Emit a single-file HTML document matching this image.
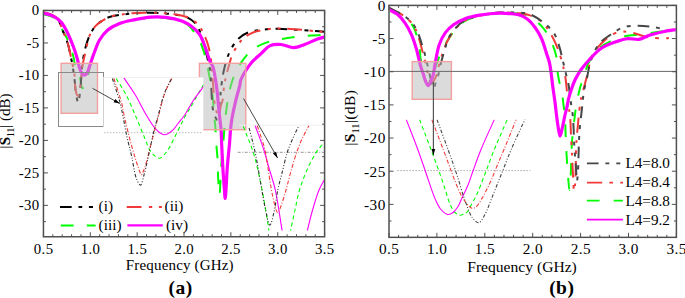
<!DOCTYPE html>
<html><head><meta charset="utf-8"><style>
html,body{margin:0;padding:0;background:#fff;overflow:hidden;}
svg{display:block;}
svg{font-family:"Liberation Serif",serif;font-size:14.5px;fill:#000;}
</style></head><body>
<svg width="685" height="298" viewBox="0 0 685 298">
<defs><clipPath id="cA"><rect x="43.5" y="10.5" width="280.5" height="225.5"/></clipPath><clipPath id="cB"><rect x="389.8" y="6.1" width="286" height="230.4"/></clipPath><clipPath id="cI1"><rect x="103.4" y="77.5" width="99.9" height="120"/></clipPath><clipPath id="cI2"><rect x="237.7" y="125" width="86.8" height="105.5"/></clipPath><clipPath id="cIB"><rect x="395" y="119.4" width="136" height="110"/></clipPath><marker id="ah" viewBox="0 0 10 10" refX="10" refY="5" markerWidth="6.2" markerHeight="6.2" markerUnits="userSpaceOnUse" orient="auto"><path d="M0,2 L10,5 L0,8 z" fill="#000"/></marker></defs>
<path d="M43.00,14.00 C46.33,15.00 50.30,15.81 53.00,17.00 C55.02,17.89 56.65,18.45 58.00,20.00 C59.70,21.96 60.21,25.65 61.60,28.50 C63.08,31.54 65.20,34.58 66.70,37.70 C68.16,40.75 69.36,43.74 70.50,47.00 C71.71,50.48 72.92,54.73 73.70,58.00 C74.31,60.58 74.23,62.72 75.00,65.00 C75.80,67.39 77.61,69.60 78.50,72.00 C79.36,74.34 79.70,76.66 80.30,79.20 C80.97,82.03 81.26,87.90 82.30,88.20 C82.91,88.38 83.84,87.04 84.50,86.00 C85.52,84.40 86.30,81.35 87.00,79.00 C87.69,76.68 88.17,74.34 88.70,72.00 C89.23,69.67 89.59,67.28 90.20,65.00 C90.80,62.78 91.56,60.68 92.30,58.50 C93.06,56.28 93.72,54.33 94.70,51.80 C96.01,48.41 97.45,43.61 99.60,40.00 C101.73,36.42 104.27,32.91 107.50,30.20 C110.88,27.36 115.30,25.21 119.60,23.50 C124.02,21.75 128.73,20.86 133.70,19.90 C139.14,18.85 145.46,17.89 151.00,17.60 C156.09,17.33 160.73,17.32 165.70,18.00 C170.98,18.72 177.65,20.41 181.80,22.00 C184.63,23.08 186.31,23.62 188.60,25.60 C192.11,28.63 196.72,35.54 199.30,40.20 C201.37,43.93 202.36,47.16 203.60,51.00 C204.96,55.18 206.01,60.06 207.00,64.40 C207.92,68.45 208.64,72.11 209.40,76.20 C210.22,80.61 211.08,85.89 211.70,90.00 C212.20,93.31 212.54,95.57 212.90,99.00 C213.38,103.57 213.66,110.29 214.10,115.00 C214.44,118.73 214.87,121.09 215.20,125.00 C215.67,130.52 215.97,138.81 216.40,145.00 C216.78,150.36 217.30,154.70 217.60,160.00 C217.93,165.96 217.86,172.94 218.20,179.00 C218.51,184.57 219.11,195.00 219.50,195.00 C219.88,195.00 220.18,185.23 220.50,180.00 C220.85,174.27 221.04,168.30 221.50,162.00 C222.01,155.03 222.87,147.16 223.50,140.00 C224.10,133.18 224.46,126.89 225.20,120.00 C226.00,112.59 227.12,103.11 228.20,97.00 C228.93,92.90 229.50,90.34 230.50,86.80 C231.61,82.84 233.04,78.25 234.70,74.40 C236.24,70.82 237.85,67.74 240.00,64.40 C242.42,60.65 245.85,56.06 248.70,53.10 C250.90,50.82 252.43,49.39 255.20,47.70 C259.04,45.35 264.94,42.89 270.20,41.30 C275.65,39.65 281.65,39.00 287.40,38.10 C293.12,37.20 298.65,36.43 304.60,35.90 C310.98,35.33 317.87,35.23 324.50,34.90" fill="none" stroke="#00ff00" stroke-width="2" stroke-dasharray="12.8 13.2" clip-path="url(#cA)" stroke-linejoin="round"/>
<path d="M43.00,12.50 C46.33,13.60 50.33,14.41 53.00,15.80 C55.06,16.86 56.64,17.77 58.00,19.50 C59.66,21.62 60.26,24.82 61.60,28.10 C63.38,32.44 66.15,38.37 67.70,43.30 C69.10,47.75 69.83,52.23 70.70,56.30 C71.47,59.87 72.09,62.77 72.70,66.40 C73.41,70.59 74.03,75.35 74.60,80.00 C75.20,84.87 75.45,90.83 76.20,95.00 C76.75,98.04 77.60,102.83 78.20,102.80 C78.90,102.77 79.49,96.02 80.00,92.00 C80.64,86.98 81.09,80.00 81.50,75.00 C81.82,71.05 81.79,68.29 82.30,64.40 C82.93,59.58 84.03,53.24 85.30,48.30 C86.42,43.94 87.57,39.96 89.30,36.20 C90.97,32.58 92.92,28.84 95.40,26.10 C97.69,23.57 100.94,21.67 103.40,20.10 C105.33,18.87 106.48,18.02 108.80,17.20 C112.41,15.92 118.11,15.10 123.40,14.40 C129.61,13.58 137.26,13.08 143.80,12.90 C149.85,12.73 155.74,12.87 161.30,13.20 C166.39,13.50 171.33,13.90 175.90,14.70 C180.04,15.42 184.16,15.95 187.60,17.60 C190.84,19.16 193.84,21.26 196.10,24.10 C198.59,27.22 199.94,31.66 201.50,35.90 C203.22,40.56 204.62,46.41 205.80,51.00 C206.78,54.80 207.41,57.95 208.20,61.50 C209.01,65.15 210.10,68.70 210.60,72.60 C211.15,76.83 210.85,80.80 211.20,86.00 C211.68,93.25 211.78,105.93 213.50,112.00 C214.51,115.56 216.48,120.18 217.50,120.00 C219.03,119.74 219.37,105.82 220.00,100.00 C220.49,95.50 220.58,92.28 221.10,88.00 C221.70,83.04 222.54,76.78 223.50,72.00 C224.29,68.05 225.18,64.62 226.20,61.30 C227.11,58.33 227.98,55.73 229.20,53.00 C230.47,50.16 232.00,47.13 233.70,44.60 C235.29,42.23 236.82,40.12 239.00,38.20 C241.47,36.03 244.58,33.87 248.00,32.50 C251.81,30.97 256.44,30.51 261.00,29.90 C265.97,29.23 271.52,28.86 276.70,28.80 C281.76,28.74 286.53,29.21 291.70,29.50 C297.24,29.81 303.31,30.22 308.90,30.60 C314.23,30.96 319.30,31.33 324.50,31.70" fill="none" stroke="#000" stroke-width="2" stroke-dasharray="11.7 6.8 3.7 6.7 4.1 6.5" clip-path="url(#cA)" stroke-linejoin="round"/>
<path d="M43.00,12.00 C46.33,13.10 50.33,13.91 53.00,15.30 C55.06,16.36 56.65,17.25 58.00,19.00 C59.69,21.19 60.24,24.62 61.60,28.00 C63.36,32.37 66.16,38.12 67.70,43.00 C69.10,47.43 69.88,52.33 70.70,56.00 C71.30,58.69 71.66,60.35 72.20,63.00 C72.90,66.46 74.00,70.98 74.50,75.00 C75.00,78.98 74.70,83.42 75.20,87.00 C75.62,89.95 76.15,93.66 77.00,95.00 C77.38,95.60 77.92,96.13 78.30,96.00 C79.05,95.75 79.55,92.47 80.00,90.00 C80.70,86.17 80.79,79.70 81.30,75.10 C81.74,71.12 82.23,67.27 82.80,64.00 C83.26,61.39 83.77,59.33 84.30,57.00 C84.83,54.66 85.34,52.73 86.00,50.00 C86.92,46.17 87.61,40.33 89.30,36.20 C90.84,32.44 92.92,28.84 95.40,26.10 C97.69,23.57 100.95,21.71 103.40,20.10 C105.33,18.83 106.47,17.86 108.80,17.00 C112.40,15.66 118.11,14.90 123.40,14.20 C129.61,13.38 137.26,12.88 143.80,12.70 C149.85,12.53 155.74,12.69 161.30,13.00 C166.39,13.29 171.50,13.67 175.90,14.40 C179.60,15.01 183.11,15.82 186.00,16.80 C188.30,17.58 190.16,18.37 192.00,19.50 C193.82,20.61 195.47,21.92 197.00,23.50 C198.66,25.21 200.02,26.94 201.50,29.50 C203.68,33.28 206.31,39.38 207.90,44.50 C209.46,49.55 210.19,54.36 211.00,60.00 C211.95,66.67 212.24,74.59 212.90,82.00 C213.57,89.58 213.74,98.79 215.00,105.00 C215.89,109.39 217.50,116.04 218.50,116.00 C219.49,115.96 220.20,107.94 221.00,105.00 C221.55,102.99 222.15,102.12 222.60,100.00 C223.33,96.54 223.48,90.10 224.10,86.00 C224.59,82.74 225.11,80.31 225.80,77.30 C226.55,74.00 227.50,70.52 228.50,67.00 C229.56,63.26 230.62,58.91 232.00,55.50 C233.18,52.59 234.58,50.05 236.00,47.70 C237.27,45.60 238.51,43.78 240.00,42.00 C241.50,40.21 242.98,38.52 245.00,37.00 C247.40,35.20 250.46,33.42 253.70,32.20 C257.34,30.83 261.76,30.13 265.90,29.50 C270.12,28.86 274.06,28.47 278.80,28.40 C284.61,28.32 291.58,28.99 298.20,29.50 C305.16,30.04 314.98,31.18 319.60,31.60 C321.81,31.80 322.87,31.87 324.50,32.00" fill="none" stroke="#f03a3a" stroke-width="2" stroke-dasharray="14.8 7.4 3.3 6.7 3 6.7" clip-path="url(#cA)" stroke-linejoin="round"/>
<path d="M43.00,13.00 C46.37,14.03 50.05,14.55 53.10,16.10 C56.07,17.61 58.81,19.57 61.10,22.10 C63.58,24.84 65.30,28.48 67.20,32.20 C69.37,36.44 71.48,41.75 73.20,46.30 C74.77,50.45 76.14,54.68 77.20,58.40 C78.09,61.52 78.43,64.45 79.30,67.10 C80.07,69.43 80.91,72.16 82.00,73.50 C82.69,74.35 83.51,75.08 84.30,75.10 C85.11,75.12 86.08,74.38 86.80,73.50 C87.90,72.16 88.48,69.37 89.30,67.10 C90.22,64.57 91.11,61.57 92.00,59.00 C92.81,56.66 93.42,54.85 94.40,52.30 C95.73,48.84 97.20,43.90 99.40,40.20 C101.58,36.54 104.22,32.95 107.50,30.20 C110.91,27.34 115.30,25.21 119.60,23.50 C124.02,21.75 128.73,20.92 133.70,19.90 C139.15,18.78 145.45,17.59 151.00,17.20 C156.08,16.84 160.72,16.82 165.70,17.40 C170.98,18.02 177.32,19.33 181.80,21.00 C185.31,22.31 187.89,23.76 190.70,25.80 C193.75,28.01 196.90,30.58 199.30,34.00 C202.10,37.99 203.95,43.99 205.80,48.80 C207.50,53.21 208.67,58.43 210.10,61.70 C211.04,63.84 212.12,64.68 212.90,66.80 C214.02,69.84 214.61,74.61 215.30,78.50 C215.98,82.34 216.52,86.07 217.00,90.00 C217.50,94.10 217.75,98.06 218.20,102.60 C218.73,107.93 219.47,115.00 220.00,120.00 C220.40,123.79 220.82,126.32 221.10,130.00 C221.44,134.49 221.44,139.37 221.70,145.00 C222.03,152.28 222.53,162.35 223.00,170.00 C223.40,176.49 223.89,182.80 224.30,188.00 C224.61,191.97 224.90,198.50 225.20,198.50 C225.50,198.50 225.82,191.97 226.10,188.00 C226.47,182.81 226.69,175.72 227.10,170.00 C227.47,164.77 227.98,159.49 228.40,155.00 C228.74,151.33 229.08,148.67 229.40,145.00 C229.79,140.51 230.07,134.49 230.50,130.00 C230.86,126.33 231.07,123.88 231.70,120.00 C232.60,114.52 234.34,106.43 235.80,100.30 C237.09,94.86 239.18,88.49 239.90,85.00 C240.27,83.21 240.00,82.50 240.50,80.90 C241.30,78.35 243.35,74.57 245.20,71.50 C247.15,68.26 249.37,64.99 252.00,62.00 C254.79,58.84 258.47,55.92 261.60,53.10 C264.53,50.47 266.92,47.02 270.20,45.60 C273.40,44.21 277.26,44.23 281.00,44.50 C285.13,44.79 289.81,47.80 293.90,47.70 C297.65,47.61 300.90,45.82 304.60,44.50 C308.74,43.02 313.82,40.42 317.50,39.10 C320.16,38.15 322.17,37.70 324.50,37.00" fill="none" stroke="#ff00ff" stroke-width="3.2" clip-path="url(#cA)" stroke-linejoin="round"/>
<rect x="61.1" y="63.3" width="36.4" height="50" fill="#b8b8b8" fill-opacity="0.5" stroke="#f4a0a0" stroke-width="1.4"/>
<rect x="199.4" y="63.3" width="46.4" height="66.4" fill="#b8b8b8" fill-opacity="0.5" stroke="#f4a0a0" stroke-width="1.4"/>
<rect x="58.5" y="72.5" width="45" height="54" fill="none" stroke="#8a8a8a" stroke-width="1"/>
<rect x="103.4" y="77.5" width="99.9" height="115" fill="#fff"/>
<line x1="103.4" y1="77.5" x2="203.3" y2="77.5" stroke="#efefef" stroke-width="1"/>
<line x1="103.9" y1="132.7" x2="202.7" y2="132.7" stroke="#bbb" stroke-width="1" stroke-dasharray="1.5 1.5"/>
<path d="M116.20,78.50 C119.57,84.07 123.14,89.16 126.30,95.20 C129.79,101.88 132.89,109.76 136.00,117.00 C139.05,124.10 142.08,131.91 144.80,138.20 C147.01,143.31 148.22,148.55 151.00,152.00 C153.31,154.86 156.77,158.32 159.40,158.20 C161.89,158.09 164.14,154.83 166.40,152.00 C169.65,147.94 172.72,140.77 175.70,135.10 C178.65,129.47 181.44,123.19 184.20,118.10 C186.52,113.82 188.57,110.71 191.00,106.50 C193.87,101.51 197.88,94.23 200.30,90.10 C201.79,87.56 202.77,86.03 204.00,84.00" fill="none" stroke="#00ff00" stroke-width="1.1" stroke-dasharray="4 3" clip-path="url(#cI1)" stroke-linejoin="round"/>
<path d="M123.90,77.90 C127.77,83.67 131.83,89.15 135.50,95.20 C139.32,101.49 142.70,109.06 146.30,115.00 C149.40,120.12 152.22,125.46 155.60,128.90 C158.26,131.61 161.21,134.61 164.10,134.80 C166.88,134.98 170.25,132.35 172.60,130.40 C174.85,128.54 176.13,125.86 178.00,123.50 C179.99,121.00 182.07,118.87 184.20,115.80 C187.02,111.75 189.84,105.82 193.00,101.00 C196.20,96.12 201.03,90.22 203.30,86.70 C204.56,84.75 205.10,83.57 206.00,82.00" fill="none" stroke="#ff00ff" stroke-width="1.1" clip-path="url(#cI1)" stroke-linejoin="round"/>
<path d="M113.90,78.50 C116.47,86.63 119.73,95.69 121.60,102.90 C123.05,108.49 123.50,112.62 124.70,118.00 C126.08,124.21 127.80,131.48 129.50,138.00 C131.14,144.30 133.04,151.08 134.70,156.50 C136.02,160.80 137.25,164.69 138.50,168.00 C139.48,170.59 140.45,174.77 141.40,174.80 C142.21,174.82 143.05,171.80 143.80,170.00 C144.70,167.85 145.47,165.49 146.30,162.70 C147.38,159.07 148.34,154.51 149.50,150.00 C150.82,144.86 152.34,139.04 153.80,133.50 C155.28,127.87 156.61,122.67 158.30,116.50 C160.33,109.09 162.56,99.00 165.20,92.10 C167.26,86.71 169.73,82.83 172.00,78.20" fill="none" stroke="#f03a3a" stroke-width="1.1" stroke-dasharray="4 1.8 1 1.8" clip-path="url(#cI1)" stroke-linejoin="round"/>
<path d="M112.40,78.50 C114.97,86.63 118.26,95.91 120.10,102.90 C121.46,108.05 121.98,111.50 123.00,116.50 C124.25,122.63 125.53,130.27 127.00,137.00 C128.44,143.60 130.19,149.82 131.70,156.50 C133.29,163.53 134.28,173.10 136.30,178.20 C137.52,181.28 139.28,185.23 140.50,185.10 C141.90,184.95 142.89,178.83 144.00,175.00 C145.42,170.10 146.60,164.19 148.00,158.00 C149.67,150.58 151.50,140.90 153.30,133.50 C154.81,127.30 156.18,122.67 157.90,116.50 C159.96,109.09 162.23,98.99 164.90,92.10 C166.99,86.71 169.50,82.83 171.80,78.20" fill="none" stroke="#333" stroke-width="1.1" stroke-dasharray="3.5 1.8 1 1.8 1 1.8" clip-path="url(#cI1)" stroke-linejoin="round"/>
<line x1="239" y1="125.2" x2="324.5" y2="125.2" stroke="#efefef" stroke-width="1"/>
<line x1="237.7" y1="152.3" x2="324.5" y2="152.3" stroke="#999" stroke-width="1" stroke-dasharray="3 1.5 1 1.5"/>
<path d="M243.30,126.40 C246.80,135.60 250.80,144.15 253.80,154.00 C257.11,164.87 259.76,178.53 261.90,189.00 C263.63,197.44 264.77,204.69 266.00,212.00 C267.11,218.63 268.30,225.83 269.00,231.00 C269.48,234.55 269.67,237.00 270.00,240.00" fill="none" stroke="#00ff00" stroke-width="1.1" stroke-dasharray="4 3" clip-path="url(#cI2)" stroke-linejoin="round"/>
<path d="M289.00,240.00 C289.60,236.50 290.02,233.53 290.80,229.50 C291.87,223.99 293.56,216.54 295.00,210.00 C296.46,203.37 297.53,196.60 299.50,190.00 C301.51,183.26 304.21,176.29 307.00,170.00 C309.61,164.10 312.70,157.86 315.60,153.30 C317.82,149.81 320.38,147.03 322.30,144.60 C323.70,142.82 324.77,141.53 326.00,140.00" fill="none" stroke="#00ff00" stroke-width="1.1" stroke-dasharray="4 3" clip-path="url(#cI2)" stroke-linejoin="round"/>
<path d="M255.20,125.70 C258.10,133.80 261.49,142.47 263.90,150.00 C265.95,156.41 267.21,161.70 269.00,168.00 C270.98,174.97 273.37,181.50 275.30,190.00 C277.88,201.38 280.49,221.58 282.10,230.40 C282.89,234.71 283.37,236.80 284.00,240.00" fill="none" stroke="#ff00ff" stroke-width="1.1" clip-path="url(#cI2)" stroke-linejoin="round"/>
<path d="M305.00,240.00 C305.80,236.80 306.47,234.12 307.40,230.40 C308.69,225.26 310.19,218.38 312.00,212.00 C314.00,204.96 316.66,195.67 319.00,190.00 C320.56,186.23 322.38,183.29 323.70,180.90 C324.58,179.31 325.23,178.30 326.00,177.00" fill="none" stroke="#ff00ff" stroke-width="1.1" clip-path="url(#cI2)" stroke-linejoin="round"/>
<path d="M257.20,125.70 C259.63,133.13 262.75,141.01 264.50,148.00 C266.00,153.99 266.47,158.84 267.50,165.00 C268.72,172.31 269.99,181.95 271.30,189.00 C272.34,194.60 273.27,199.68 274.50,204.00 C275.47,207.39 276.55,212.84 277.70,212.90 C278.73,212.95 279.89,208.83 281.00,206.00 C282.64,201.82 284.39,195.58 286.00,190.00 C287.74,183.96 289.15,177.47 291.00,171.00 C292.96,164.15 295.33,155.98 297.50,150.00 C299.17,145.40 300.64,141.99 302.50,138.00 C304.42,133.88 306.77,129.80 308.90,125.70" fill="none" stroke="#f03a3a" stroke-width="1.1" stroke-dasharray="4 1.8 1 1.8" clip-path="url(#cI2)" stroke-linejoin="round"/>
<path d="M249.10,127.80 C251.13,136.07 253.31,143.67 255.20,152.60 C257.39,162.94 259.42,176.43 261.20,186.30 C262.60,194.04 263.49,200.36 265.00,207.00 C266.42,213.27 268.29,225.07 269.90,225.10 C271.28,225.13 272.78,217.02 274.00,212.00 C275.59,205.45 276.53,195.95 278.00,189.00 C279.24,183.16 280.56,178.69 282.00,173.00 C283.66,166.47 285.36,158.23 287.40,152.00 C289.10,146.80 291.05,142.49 293.00,138.00 C294.86,133.74 296.87,129.80 298.80,125.70" fill="none" stroke="#333" stroke-width="1.1" stroke-dasharray="3.5 1.8 1 1.8 1 1.8" clip-path="url(#cI2)" stroke-linejoin="round"/>
<line x1="92.5" y1="88.3" x2="119.8" y2="103.6" stroke="#333" stroke-width="0.9" marker-end="url(#ah)"/>
<line x1="243.5" y1="98.5" x2="277.6" y2="158" stroke="#333" stroke-width="0.9" marker-end="url(#ah)"/>
<path d="M389.50,9.00 C394.03,11.33 399.12,13.03 403.10,16.00 C406.99,18.90 410.58,21.98 413.20,26.50 C416.45,32.10 418.36,42.14 419.50,48.00 C420.26,51.92 420.00,54.68 420.50,58.00 C421.00,61.35 421.90,64.64 422.50,68.00 C423.10,71.40 423.22,75.59 424.10,78.30 C424.73,80.23 425.54,82.23 426.50,83.00 C427.10,83.48 427.87,83.73 428.50,83.50 C429.41,83.16 430.24,81.37 431.00,80.00 C431.94,78.31 432.80,76.02 433.50,74.00 C434.19,72.02 434.58,69.97 435.20,68.00 C435.81,66.04 436.39,64.34 437.20,62.20 C438.23,59.47 439.49,56.23 441.00,53.00 C442.77,49.23 444.96,44.84 447.30,41.00 C449.63,37.18 452.05,33.33 455.00,30.00 C457.95,26.66 461.05,23.30 465.00,21.00 C469.28,18.51 474.58,17.30 480.00,16.00 C486.13,14.53 493.80,13.42 500.00,13.00 C505.34,12.64 510.09,12.66 515.00,13.20 C519.85,13.74 524.95,14.13 529.30,16.20 C533.81,18.35 537.99,22.26 541.50,26.10 C545.04,29.98 547.92,34.33 550.40,39.40 C553.24,45.20 555.89,53.34 557.00,59.30 C557.86,63.94 557.11,67.76 557.60,72.00 C558.10,76.32 559.19,81.34 560.00,85.00 C560.60,87.70 561.28,89.29 561.80,92.00 C562.51,95.65 562.97,100.66 563.50,105.00 C564.03,109.33 564.61,112.87 565.00,118.00 C565.56,125.36 565.54,136.09 566.00,145.00 C566.45,153.75 567.08,163.01 567.70,171.00 C568.23,177.83 568.87,189.99 569.40,190.00 C569.79,190.00 570.24,183.49 570.50,180.00 C570.79,176.19 570.81,172.76 571.00,168.00 C571.28,160.99 571.37,150.66 572.00,142.00 C572.63,133.32 573.93,123.01 574.80,116.00 C575.39,111.23 575.76,108.14 576.50,104.00 C577.30,99.50 578.31,94.55 579.50,90.00 C580.66,85.56 582.18,81.07 583.50,77.00 C584.68,73.36 586.19,69.08 587.00,66.70 C587.43,65.44 587.34,65.08 588.00,63.80 C589.65,60.60 594.98,52.12 599.10,48.30 C602.48,45.16 606.01,43.55 610.10,41.60 C614.72,39.40 620.36,37.26 625.60,36.10 C630.70,34.97 635.77,35.28 641.10,34.60 C646.81,33.87 652.89,32.65 658.80,31.80 C664.69,30.95 670.60,30.27 676.50,29.50" fill="none" stroke="#00ff00" stroke-width="2" stroke-dasharray="12.6 14.2" clip-path="url(#cB)" stroke-linejoin="round"/>
<path d="M389.50,8.50 C394.03,10.83 399.08,12.66 403.10,15.50 C406.93,18.21 410.62,21.35 413.20,25.00 C415.71,28.55 417.02,32.86 418.50,37.00 C420.00,41.19 420.96,45.75 422.10,50.00 C423.19,54.08 424.31,58.36 425.20,62.00 C425.93,65.02 426.46,67.59 427.10,70.30 C427.72,72.92 428.29,75.67 429.00,78.00 C429.61,80.00 430.12,83.24 431.00,83.50 C431.58,83.67 432.41,82.66 433.00,82.00 C433.70,81.22 434.26,80.01 434.80,79.00 C435.32,78.01 435.74,77.30 436.20,76.00 C436.98,73.83 437.61,70.27 438.50,67.00 C439.58,63.06 440.77,58.37 442.30,54.00 C443.91,49.38 445.59,44.45 448.00,40.00 C450.47,35.44 453.60,30.53 457.00,27.00 C460.02,23.86 463.26,21.40 467.00,19.50 C470.90,17.52 475.16,16.60 480.00,15.50 C485.91,14.16 493.80,12.86 500.00,12.50 C505.34,12.19 510.07,12.56 515.00,13.00 C519.84,13.43 524.84,13.62 529.30,15.10 C533.67,16.55 537.85,18.48 541.50,21.70 C545.78,25.47 549.60,31.86 552.60,37.20 C555.42,42.22 557.35,47.47 559.20,52.70 C561.01,57.81 562.50,63.60 563.60,68.20 C564.46,71.82 564.97,74.49 565.50,78.00 C566.10,82.02 566.41,86.59 566.90,91.00 C567.41,95.58 567.94,100.42 568.50,105.00 C569.04,109.42 569.79,113.37 570.20,118.00 C570.67,123.28 570.70,128.79 571.00,135.00 C571.36,142.53 571.83,152.73 572.20,160.00 C572.49,165.64 572.71,169.92 573.00,175.00 C573.30,180.25 573.53,190.98 574.00,191.00 C574.33,191.01 574.91,186.21 575.20,183.00 C575.64,178.21 575.65,171.00 575.80,165.00 C575.95,159.00 575.80,153.23 576.10,147.00 C576.43,140.26 577.21,132.52 577.80,126.00 C578.32,120.30 578.93,114.42 579.40,110.00 C579.73,106.87 579.80,104.80 580.30,102.00 C580.87,98.83 581.85,95.72 582.80,92.00 C584.01,87.29 585.52,81.70 587.00,76.00 C588.69,69.48 589.60,60.73 592.40,55.00 C594.69,50.31 598.18,46.79 601.30,43.50 C604.08,40.57 606.93,37.98 610.00,36.00 C612.85,34.15 615.62,32.42 619.00,31.80 C622.92,31.08 627.74,31.99 632.30,32.80 C637.31,33.69 642.59,36.28 647.80,37.20 C652.92,38.10 658.34,38.33 663.30,38.30 C667.88,38.27 672.10,37.57 676.50,37.20" fill="none" stroke="#f03a3a" stroke-width="2" stroke-dasharray="15.3 7.1 3.7 7.3 2.7 7.3" clip-path="url(#cB)" stroke-linejoin="round"/>
<path d="M389.50,8.00 C394.03,10.37 399.06,12.31 403.10,15.10 C406.90,17.72 410.52,20.58 413.20,24.10 C415.88,27.62 417.83,32.86 419.20,36.20 C420.12,38.45 420.39,39.79 421.10,42.00 C422.04,44.94 423.32,48.82 424.30,52.30 C425.29,55.82 426.14,59.40 427.00,63.00 C427.87,66.64 428.72,70.52 429.50,74.00 C430.21,77.15 430.85,80.37 431.50,83.00 C432.01,85.06 432.34,88.35 433.00,88.50 C433.41,88.59 433.99,87.67 434.40,86.90 C435.10,85.60 435.38,82.78 436.00,81.00 C436.54,79.46 437.24,78.52 437.80,76.80 C438.63,74.24 439.23,70.19 440.00,67.00 C440.74,63.93 441.45,61.07 442.30,58.00 C443.20,54.75 444.41,51.12 445.30,48.00 C446.08,45.27 446.15,43.05 447.40,40.30 C449.09,36.59 452.58,31.55 455.50,28.20 C458.00,25.33 460.11,23.07 463.50,21.10 C467.82,18.59 474.17,16.91 480.00,15.50 C486.28,13.98 493.80,12.96 500.00,12.50 C505.34,12.10 510.07,12.24 515.00,12.50 C519.83,12.75 524.69,12.44 529.30,14.00 C534.29,15.69 539.50,19.50 543.70,22.80 C547.54,25.82 551.12,28.94 553.70,32.80 C556.30,36.70 557.72,41.62 559.20,46.10 C560.64,50.46 561.44,54.94 562.50,59.30 C563.54,63.57 564.49,67.74 565.50,72.00 C566.52,76.31 567.80,80.60 568.60,85.00 C569.41,89.46 569.66,93.86 570.30,98.60 C571.01,103.81 572.15,109.79 572.70,115.00 C573.20,119.71 573.34,123.55 573.60,128.50 C573.92,134.53 574.00,142.24 574.40,148.60 C574.76,154.35 575.36,159.57 575.80,165.00 C576.23,170.37 576.58,181.00 577.00,181.00 C577.42,181.00 578.04,169.98 578.30,165.00 C578.53,160.66 578.48,156.83 578.60,152.80 C578.72,148.83 578.83,144.86 579.00,141.00 C579.17,137.27 579.29,133.88 579.60,130.00 C579.95,125.61 580.58,120.75 581.10,116.00 C581.64,111.09 582.33,105.37 582.80,101.00 C583.16,97.62 583.15,95.31 583.70,92.00 C584.40,87.83 585.92,82.83 587.00,78.00 C588.15,72.85 588.57,67.39 590.40,62.00 C592.44,56.01 595.39,48.47 599.10,43.80 C602.20,39.89 606.15,37.71 610.10,35.00 C614.23,32.16 618.80,28.73 623.40,27.20 C627.69,25.77 631.95,25.77 636.70,25.70 C642.18,25.62 648.22,26.16 654.40,27.20 C661.40,28.38 669.13,30.93 676.50,32.80" fill="none" stroke="#464646" stroke-width="2" stroke-dasharray="11.7 6.8 3.9 7 4 7" clip-path="url(#cB)" stroke-linejoin="round"/>
<path d="M389.50,10.00 C392.03,11.37 394.69,12.20 397.10,14.10 C399.94,16.35 402.77,19.80 405.10,23.10 C407.49,26.48 409.41,30.20 411.20,34.20 C413.15,38.55 414.83,43.75 416.20,48.30 C417.45,52.46 418.29,56.84 419.20,60.40 C419.92,63.23 420.45,65.58 421.20,68.00 C421.90,70.27 422.78,72.33 423.50,74.50 C424.21,76.66 424.65,79.06 425.50,81.00 C426.25,82.71 427.29,85.59 428.20,85.60 C429.12,85.61 430.18,82.74 431.00,81.00 C431.96,78.96 432.73,76.65 433.40,74.00 C434.24,70.67 434.47,66.76 435.30,62.50 C436.35,57.11 437.48,49.59 439.40,44.30 C441.01,39.86 442.92,35.93 445.40,32.60 C447.69,29.52 450.34,27.07 453.50,24.80 C456.98,22.30 461.31,20.11 465.60,18.50 C470.03,16.84 474.55,15.97 479.70,15.10 C485.78,14.07 494.22,13.24 499.80,13.10 C503.77,13.00 506.73,13.30 510.00,13.60 C513.05,13.88 515.94,13.92 518.80,14.80 C521.81,15.73 524.97,17.21 527.60,19.20 C530.36,21.29 532.67,24.17 534.90,27.20 C537.35,30.53 539.58,34.27 541.50,38.50 C543.71,43.36 545.57,50.56 547.00,54.90 C547.94,57.75 548.66,59.41 549.30,62.00 C550.04,65.02 550.48,68.43 551.00,72.00 C551.59,76.09 551.98,80.47 552.60,85.20 C553.32,90.69 554.41,97.65 555.10,103.00 C555.66,107.39 556.01,111.09 556.50,115.00 C556.97,118.75 557.38,122.42 558.00,126.00 C558.59,129.45 559.33,136.08 560.10,136.10 C560.84,136.12 561.73,130.25 562.50,127.00 C563.38,123.29 564.18,118.59 565.00,115.00 C565.67,112.06 566.42,109.68 567.00,107.00 C567.58,104.34 567.85,101.71 568.50,99.00 C569.19,96.12 570.12,93.15 571.10,90.20 C572.11,87.15 573.20,83.88 574.50,81.00 C575.72,78.30 577.33,75.52 578.60,73.40 C579.56,71.80 580.10,70.92 581.30,69.30 C583.24,66.69 586.41,62.79 589.50,59.50 C592.98,55.79 596.99,51.22 601.30,48.30 C605.39,45.53 610.11,43.83 614.60,42.20 C618.94,40.62 623.56,39.01 627.80,38.60 C631.63,38.23 635.26,39.96 638.90,39.40 C642.67,38.82 646.09,36.25 650.00,35.00 C654.19,33.66 658.86,32.62 663.30,31.70 C667.69,30.79 672.10,30.23 676.50,29.50" fill="none" stroke="#ff00ff" stroke-width="3.2" clip-path="url(#cB)" stroke-linejoin="round"/>
<rect x="412.2" y="61.6" width="39.2" height="37.7" fill="#b8b8b8" fill-opacity="0.5" stroke="#f4a0a0" stroke-width="1.4"/>
<line x1="389" y1="71.4" x2="676.4" y2="71.4" stroke="#6a6a6a" stroke-width="1"/>
<line x1="397.4" y1="170.6" x2="530.4" y2="170.6" stroke="#aaa" stroke-width="1" stroke-dasharray="1.5 1.5"/>
<path d="M419.60,119.60 C423.90,130.93 428.69,143.36 432.50,153.60 C435.63,162.00 438.49,169.68 440.90,176.60 C442.86,182.23 444.34,187.03 446.00,192.00 C447.57,196.68 448.83,201.91 450.60,205.60 C451.93,208.38 453.29,210.84 455.00,212.50 C456.40,213.86 458.13,215.11 459.70,215.30 C461.13,215.47 462.68,214.62 464.00,214.00 C465.27,213.40 466.40,212.89 467.50,211.70 C469.15,209.92 470.46,206.38 472.00,203.50 C473.69,200.34 475.39,197.44 477.20,193.50 C479.66,188.13 482.33,180.85 485.00,174.00 C487.95,166.43 490.69,158.43 494.10,150.00 C497.98,140.42 502.83,129.73 507.20,119.60" fill="none" stroke="#00ff00" stroke-width="1.1" stroke-dasharray="4 3" clip-path="url(#cIB)" stroke-linejoin="round"/>
<path d="M406.30,119.60 C410.20,129.73 414.49,140.42 418.00,150.00 C421.11,158.50 423.58,166.14 426.40,174.20 C429.22,182.27 432.13,192.05 434.90,198.40 C436.80,202.74 438.13,206.24 440.50,209.00 C442.58,211.42 445.58,214.19 447.90,214.50 C449.69,214.74 451.44,213.61 453.00,212.50 C454.83,211.20 456.47,209.02 457.90,206.80 C459.53,204.28 460.53,201.14 462.00,198.00 C463.70,194.38 465.76,190.51 467.50,186.30 C469.45,181.58 470.99,176.50 473.00,171.00 C475.36,164.55 477.71,157.59 480.80,150.00 C484.57,140.75 489.80,129.73 494.30,119.60" fill="none" stroke="#ff00ff" stroke-width="1.1" clip-path="url(#cIB)" stroke-linejoin="round"/>
<path d="M431.80,119.60 C435.67,129.73 440.24,141.63 443.40,150.00 C445.62,155.87 447.17,160.09 449.00,165.00 C450.77,169.75 452.25,174.14 454.20,179.00 C456.37,184.40 458.94,191.33 461.50,195.90 C463.43,199.33 465.55,202.19 467.50,204.40 C468.96,206.05 470.27,207.96 471.80,208.30 C473.13,208.59 474.64,207.99 476.00,207.00 C478.10,205.47 480.17,201.39 482.00,198.40 C483.84,195.39 485.40,192.20 487.00,189.00 C488.63,185.74 490.13,182.57 491.70,179.00 C493.47,174.97 495.11,170.55 497.00,166.00 C499.11,160.94 501.22,156.19 503.80,150.00 C507.34,141.49 512.07,129.73 516.20,119.60" fill="none" stroke="#f03a3a" stroke-width="1.1" stroke-dasharray="4 1.8 1 1.8" clip-path="url(#cIB)" stroke-linejoin="round"/>
<path d="M437.00,119.60 C440.73,129.73 444.76,140.43 448.20,150.00 C451.26,158.51 453.94,165.92 456.70,174.20 C459.58,182.83 462.19,193.00 465.10,200.80 C467.46,207.14 469.51,213.92 472.40,217.70 C474.33,220.22 476.96,222.97 478.80,222.80 C480.43,222.65 481.73,219.87 483.00,218.00 C484.47,215.83 485.65,213.17 486.90,210.40 C488.33,207.24 489.53,203.70 491.00,200.00 C492.69,195.75 494.59,191.07 496.50,186.30 C498.58,181.10 500.72,175.71 503.00,170.00 C505.53,163.67 507.86,157.34 511.00,150.00 C514.93,140.80 520.33,129.47 525.00,119.20" fill="none" stroke="#444" stroke-width="1.1" stroke-dasharray="3.5 1.8 1 1.8 1 1.8" clip-path="url(#cIB)" stroke-linejoin="round"/>
<line x1="433.4" y1="82" x2="433.4" y2="155.2" stroke="#555" stroke-width="1.2" marker-end="url(#ah)"/>
<rect x="43.45" y="10.45" width="281.15000000000003" height="226.3" fill="none" stroke="#505050" stroke-width="1.5"/>
<line x1="43.45" y1="236.75" x2="43.45" y2="232.25" stroke="#505050" stroke-width="1"/>
<line x1="43.45" y1="10.45" x2="43.45" y2="14.95" stroke="#505050" stroke-width="1"/>
<line x1="52.82" y1="236.75" x2="52.82" y2="234.25" stroke="#505050" stroke-width="1"/>
<line x1="52.82" y1="10.45" x2="52.82" y2="12.95" stroke="#505050" stroke-width="1"/>
<line x1="62.19" y1="236.75" x2="62.19" y2="234.25" stroke="#505050" stroke-width="1"/>
<line x1="62.19" y1="10.45" x2="62.19" y2="12.95" stroke="#505050" stroke-width="1"/>
<line x1="71.57" y1="236.75" x2="71.57" y2="234.25" stroke="#505050" stroke-width="1"/>
<line x1="71.57" y1="10.45" x2="71.57" y2="12.95" stroke="#505050" stroke-width="1"/>
<line x1="80.94" y1="236.75" x2="80.94" y2="234.25" stroke="#505050" stroke-width="1"/>
<line x1="80.94" y1="10.45" x2="80.94" y2="12.95" stroke="#505050" stroke-width="1"/>
<line x1="90.31" y1="236.75" x2="90.31" y2="232.25" stroke="#505050" stroke-width="1"/>
<line x1="90.31" y1="10.45" x2="90.31" y2="14.95" stroke="#505050" stroke-width="1"/>
<line x1="99.68" y1="236.75" x2="99.68" y2="234.25" stroke="#505050" stroke-width="1"/>
<line x1="99.68" y1="10.45" x2="99.68" y2="12.95" stroke="#505050" stroke-width="1"/>
<line x1="109.05" y1="236.75" x2="109.05" y2="234.25" stroke="#505050" stroke-width="1"/>
<line x1="109.05" y1="10.45" x2="109.05" y2="12.95" stroke="#505050" stroke-width="1"/>
<line x1="118.42" y1="236.75" x2="118.42" y2="234.25" stroke="#505050" stroke-width="1"/>
<line x1="118.42" y1="10.45" x2="118.42" y2="12.95" stroke="#505050" stroke-width="1"/>
<line x1="127.80" y1="236.75" x2="127.80" y2="234.25" stroke="#505050" stroke-width="1"/>
<line x1="127.80" y1="10.45" x2="127.80" y2="12.95" stroke="#505050" stroke-width="1"/>
<line x1="137.17" y1="236.75" x2="137.17" y2="232.25" stroke="#505050" stroke-width="1"/>
<line x1="137.17" y1="10.45" x2="137.17" y2="14.95" stroke="#505050" stroke-width="1"/>
<line x1="146.54" y1="236.75" x2="146.54" y2="234.25" stroke="#505050" stroke-width="1"/>
<line x1="146.54" y1="10.45" x2="146.54" y2="12.95" stroke="#505050" stroke-width="1"/>
<line x1="155.91" y1="236.75" x2="155.91" y2="234.25" stroke="#505050" stroke-width="1"/>
<line x1="155.91" y1="10.45" x2="155.91" y2="12.95" stroke="#505050" stroke-width="1"/>
<line x1="165.28" y1="236.75" x2="165.28" y2="234.25" stroke="#505050" stroke-width="1"/>
<line x1="165.28" y1="10.45" x2="165.28" y2="12.95" stroke="#505050" stroke-width="1"/>
<line x1="174.65" y1="236.75" x2="174.65" y2="234.25" stroke="#505050" stroke-width="1"/>
<line x1="174.65" y1="10.45" x2="174.65" y2="12.95" stroke="#505050" stroke-width="1"/>
<line x1="184.03" y1="236.75" x2="184.03" y2="232.25" stroke="#505050" stroke-width="1"/>
<line x1="184.03" y1="10.45" x2="184.03" y2="14.95" stroke="#505050" stroke-width="1"/>
<line x1="193.40" y1="236.75" x2="193.40" y2="234.25" stroke="#505050" stroke-width="1"/>
<line x1="193.40" y1="10.45" x2="193.40" y2="12.95" stroke="#505050" stroke-width="1"/>
<line x1="202.77" y1="236.75" x2="202.77" y2="234.25" stroke="#505050" stroke-width="1"/>
<line x1="202.77" y1="10.45" x2="202.77" y2="12.95" stroke="#505050" stroke-width="1"/>
<line x1="212.14" y1="236.75" x2="212.14" y2="234.25" stroke="#505050" stroke-width="1"/>
<line x1="212.14" y1="10.45" x2="212.14" y2="12.95" stroke="#505050" stroke-width="1"/>
<line x1="221.51" y1="236.75" x2="221.51" y2="234.25" stroke="#505050" stroke-width="1"/>
<line x1="221.51" y1="10.45" x2="221.51" y2="12.95" stroke="#505050" stroke-width="1"/>
<line x1="230.88" y1="236.75" x2="230.88" y2="232.25" stroke="#505050" stroke-width="1"/>
<line x1="230.88" y1="10.45" x2="230.88" y2="14.95" stroke="#505050" stroke-width="1"/>
<line x1="240.26" y1="236.75" x2="240.26" y2="234.25" stroke="#505050" stroke-width="1"/>
<line x1="240.26" y1="10.45" x2="240.26" y2="12.95" stroke="#505050" stroke-width="1"/>
<line x1="249.63" y1="236.75" x2="249.63" y2="234.25" stroke="#505050" stroke-width="1"/>
<line x1="249.63" y1="10.45" x2="249.63" y2="12.95" stroke="#505050" stroke-width="1"/>
<line x1="259.00" y1="236.75" x2="259.00" y2="234.25" stroke="#505050" stroke-width="1"/>
<line x1="259.00" y1="10.45" x2="259.00" y2="12.95" stroke="#505050" stroke-width="1"/>
<line x1="268.37" y1="236.75" x2="268.37" y2="234.25" stroke="#505050" stroke-width="1"/>
<line x1="268.37" y1="10.45" x2="268.37" y2="12.95" stroke="#505050" stroke-width="1"/>
<line x1="277.74" y1="236.75" x2="277.74" y2="232.25" stroke="#505050" stroke-width="1"/>
<line x1="277.74" y1="10.45" x2="277.74" y2="14.95" stroke="#505050" stroke-width="1"/>
<line x1="287.11" y1="236.75" x2="287.11" y2="234.25" stroke="#505050" stroke-width="1"/>
<line x1="287.11" y1="10.45" x2="287.11" y2="12.95" stroke="#505050" stroke-width="1"/>
<line x1="296.49" y1="236.75" x2="296.49" y2="234.25" stroke="#505050" stroke-width="1"/>
<line x1="296.49" y1="10.45" x2="296.49" y2="12.95" stroke="#505050" stroke-width="1"/>
<line x1="305.86" y1="236.75" x2="305.86" y2="234.25" stroke="#505050" stroke-width="1"/>
<line x1="305.86" y1="10.45" x2="305.86" y2="12.95" stroke="#505050" stroke-width="1"/>
<line x1="315.23" y1="236.75" x2="315.23" y2="234.25" stroke="#505050" stroke-width="1"/>
<line x1="315.23" y1="10.45" x2="315.23" y2="12.95" stroke="#505050" stroke-width="1"/>
<line x1="324.60" y1="236.75" x2="324.60" y2="232.25" stroke="#505050" stroke-width="1"/>
<line x1="324.60" y1="10.45" x2="324.60" y2="14.95" stroke="#505050" stroke-width="1"/>
<line x1="43.45" y1="10.45" x2="47.95" y2="10.45" stroke="#505050" stroke-width="1"/>
<line x1="324.6" y1="10.45" x2="320.1" y2="10.45" stroke="#505050" stroke-width="1"/>
<line x1="43.45" y1="26.70" x2="45.95" y2="26.70" stroke="#505050" stroke-width="1"/>
<line x1="324.6" y1="26.70" x2="322.1" y2="26.70" stroke="#505050" stroke-width="1"/>
<line x1="43.45" y1="42.94" x2="47.95" y2="42.94" stroke="#505050" stroke-width="1"/>
<line x1="324.6" y1="42.94" x2="320.1" y2="42.94" stroke="#505050" stroke-width="1"/>
<line x1="43.45" y1="59.19" x2="45.95" y2="59.19" stroke="#505050" stroke-width="1"/>
<line x1="324.6" y1="59.19" x2="322.1" y2="59.19" stroke="#505050" stroke-width="1"/>
<line x1="43.45" y1="75.43" x2="47.95" y2="75.43" stroke="#505050" stroke-width="1"/>
<line x1="324.6" y1="75.43" x2="320.1" y2="75.43" stroke="#505050" stroke-width="1"/>
<line x1="43.45" y1="91.68" x2="45.95" y2="91.68" stroke="#505050" stroke-width="1"/>
<line x1="324.6" y1="91.68" x2="322.1" y2="91.68" stroke="#505050" stroke-width="1"/>
<line x1="43.45" y1="107.92" x2="47.95" y2="107.92" stroke="#505050" stroke-width="1"/>
<line x1="324.6" y1="107.92" x2="320.1" y2="107.92" stroke="#505050" stroke-width="1"/>
<line x1="43.45" y1="124.17" x2="45.95" y2="124.17" stroke="#505050" stroke-width="1"/>
<line x1="324.6" y1="124.17" x2="322.1" y2="124.17" stroke="#505050" stroke-width="1"/>
<line x1="43.45" y1="140.41" x2="47.95" y2="140.41" stroke="#505050" stroke-width="1"/>
<line x1="324.6" y1="140.41" x2="320.1" y2="140.41" stroke="#505050" stroke-width="1"/>
<line x1="43.45" y1="156.66" x2="45.95" y2="156.66" stroke="#505050" stroke-width="1"/>
<line x1="324.6" y1="156.66" x2="322.1" y2="156.66" stroke="#505050" stroke-width="1"/>
<line x1="43.45" y1="172.90" x2="47.95" y2="172.90" stroke="#505050" stroke-width="1"/>
<line x1="324.6" y1="172.90" x2="320.1" y2="172.90" stroke="#505050" stroke-width="1"/>
<line x1="43.45" y1="189.14" x2="45.95" y2="189.14" stroke="#505050" stroke-width="1"/>
<line x1="324.6" y1="189.14" x2="322.1" y2="189.14" stroke="#505050" stroke-width="1"/>
<line x1="43.45" y1="205.39" x2="47.95" y2="205.39" stroke="#505050" stroke-width="1"/>
<line x1="324.6" y1="205.39" x2="320.1" y2="205.39" stroke="#505050" stroke-width="1"/>
<line x1="43.45" y1="221.63" x2="45.95" y2="221.63" stroke="#505050" stroke-width="1"/>
<line x1="324.6" y1="221.63" x2="322.1" y2="221.63" stroke="#505050" stroke-width="1"/>
<rect x="389.0" y="5.4" width="287.4" height="231.95" fill="none" stroke="#505050" stroke-width="1.5"/>
<line x1="389.00" y1="237.35" x2="389.00" y2="232.85" stroke="#505050" stroke-width="1"/>
<line x1="389.00" y1="5.4" x2="389.00" y2="9.9" stroke="#505050" stroke-width="1"/>
<line x1="398.58" y1="237.35" x2="398.58" y2="234.85" stroke="#505050" stroke-width="1"/>
<line x1="398.58" y1="5.4" x2="398.58" y2="7.9" stroke="#505050" stroke-width="1"/>
<line x1="408.16" y1="237.35" x2="408.16" y2="234.85" stroke="#505050" stroke-width="1"/>
<line x1="408.16" y1="5.4" x2="408.16" y2="7.9" stroke="#505050" stroke-width="1"/>
<line x1="417.74" y1="237.35" x2="417.74" y2="234.85" stroke="#505050" stroke-width="1"/>
<line x1="417.74" y1="5.4" x2="417.74" y2="7.9" stroke="#505050" stroke-width="1"/>
<line x1="427.32" y1="237.35" x2="427.32" y2="234.85" stroke="#505050" stroke-width="1"/>
<line x1="427.32" y1="5.4" x2="427.32" y2="7.9" stroke="#505050" stroke-width="1"/>
<line x1="436.90" y1="237.35" x2="436.90" y2="232.85" stroke="#505050" stroke-width="1"/>
<line x1="436.90" y1="5.4" x2="436.90" y2="9.9" stroke="#505050" stroke-width="1"/>
<line x1="446.48" y1="237.35" x2="446.48" y2="234.85" stroke="#505050" stroke-width="1"/>
<line x1="446.48" y1="5.4" x2="446.48" y2="7.9" stroke="#505050" stroke-width="1"/>
<line x1="456.06" y1="237.35" x2="456.06" y2="234.85" stroke="#505050" stroke-width="1"/>
<line x1="456.06" y1="5.4" x2="456.06" y2="7.9" stroke="#505050" stroke-width="1"/>
<line x1="465.64" y1="237.35" x2="465.64" y2="234.85" stroke="#505050" stroke-width="1"/>
<line x1="465.64" y1="5.4" x2="465.64" y2="7.9" stroke="#505050" stroke-width="1"/>
<line x1="475.22" y1="237.35" x2="475.22" y2="234.85" stroke="#505050" stroke-width="1"/>
<line x1="475.22" y1="5.4" x2="475.22" y2="7.9" stroke="#505050" stroke-width="1"/>
<line x1="484.80" y1="237.35" x2="484.80" y2="232.85" stroke="#505050" stroke-width="1"/>
<line x1="484.80" y1="5.4" x2="484.80" y2="9.9" stroke="#505050" stroke-width="1"/>
<line x1="494.38" y1="237.35" x2="494.38" y2="234.85" stroke="#505050" stroke-width="1"/>
<line x1="494.38" y1="5.4" x2="494.38" y2="7.9" stroke="#505050" stroke-width="1"/>
<line x1="503.96" y1="237.35" x2="503.96" y2="234.85" stroke="#505050" stroke-width="1"/>
<line x1="503.96" y1="5.4" x2="503.96" y2="7.9" stroke="#505050" stroke-width="1"/>
<line x1="513.54" y1="237.35" x2="513.54" y2="234.85" stroke="#505050" stroke-width="1"/>
<line x1="513.54" y1="5.4" x2="513.54" y2="7.9" stroke="#505050" stroke-width="1"/>
<line x1="523.12" y1="237.35" x2="523.12" y2="234.85" stroke="#505050" stroke-width="1"/>
<line x1="523.12" y1="5.4" x2="523.12" y2="7.9" stroke="#505050" stroke-width="1"/>
<line x1="532.70" y1="237.35" x2="532.70" y2="232.85" stroke="#505050" stroke-width="1"/>
<line x1="532.70" y1="5.4" x2="532.70" y2="9.9" stroke="#505050" stroke-width="1"/>
<line x1="542.28" y1="237.35" x2="542.28" y2="234.85" stroke="#505050" stroke-width="1"/>
<line x1="542.28" y1="5.4" x2="542.28" y2="7.9" stroke="#505050" stroke-width="1"/>
<line x1="551.86" y1="237.35" x2="551.86" y2="234.85" stroke="#505050" stroke-width="1"/>
<line x1="551.86" y1="5.4" x2="551.86" y2="7.9" stroke="#505050" stroke-width="1"/>
<line x1="561.44" y1="237.35" x2="561.44" y2="234.85" stroke="#505050" stroke-width="1"/>
<line x1="561.44" y1="5.4" x2="561.44" y2="7.9" stroke="#505050" stroke-width="1"/>
<line x1="571.02" y1="237.35" x2="571.02" y2="234.85" stroke="#505050" stroke-width="1"/>
<line x1="571.02" y1="5.4" x2="571.02" y2="7.9" stroke="#505050" stroke-width="1"/>
<line x1="580.60" y1="237.35" x2="580.60" y2="232.85" stroke="#505050" stroke-width="1"/>
<line x1="580.60" y1="5.4" x2="580.60" y2="9.9" stroke="#505050" stroke-width="1"/>
<line x1="590.18" y1="237.35" x2="590.18" y2="234.85" stroke="#505050" stroke-width="1"/>
<line x1="590.18" y1="5.4" x2="590.18" y2="7.9" stroke="#505050" stroke-width="1"/>
<line x1="599.76" y1="237.35" x2="599.76" y2="234.85" stroke="#505050" stroke-width="1"/>
<line x1="599.76" y1="5.4" x2="599.76" y2="7.9" stroke="#505050" stroke-width="1"/>
<line x1="609.34" y1="237.35" x2="609.34" y2="234.85" stroke="#505050" stroke-width="1"/>
<line x1="609.34" y1="5.4" x2="609.34" y2="7.9" stroke="#505050" stroke-width="1"/>
<line x1="618.92" y1="237.35" x2="618.92" y2="234.85" stroke="#505050" stroke-width="1"/>
<line x1="618.92" y1="5.4" x2="618.92" y2="7.9" stroke="#505050" stroke-width="1"/>
<line x1="628.50" y1="237.35" x2="628.50" y2="232.85" stroke="#505050" stroke-width="1"/>
<line x1="628.50" y1="5.4" x2="628.50" y2="9.9" stroke="#505050" stroke-width="1"/>
<line x1="638.08" y1="237.35" x2="638.08" y2="234.85" stroke="#505050" stroke-width="1"/>
<line x1="638.08" y1="5.4" x2="638.08" y2="7.9" stroke="#505050" stroke-width="1"/>
<line x1="647.66" y1="237.35" x2="647.66" y2="234.85" stroke="#505050" stroke-width="1"/>
<line x1="647.66" y1="5.4" x2="647.66" y2="7.9" stroke="#505050" stroke-width="1"/>
<line x1="657.24" y1="237.35" x2="657.24" y2="234.85" stroke="#505050" stroke-width="1"/>
<line x1="657.24" y1="5.4" x2="657.24" y2="7.9" stroke="#505050" stroke-width="1"/>
<line x1="666.82" y1="237.35" x2="666.82" y2="234.85" stroke="#505050" stroke-width="1"/>
<line x1="666.82" y1="5.4" x2="666.82" y2="7.9" stroke="#505050" stroke-width="1"/>
<line x1="676.40" y1="237.35" x2="676.40" y2="232.85" stroke="#505050" stroke-width="1"/>
<line x1="676.40" y1="5.4" x2="676.40" y2="9.9" stroke="#505050" stroke-width="1"/>
<line x1="389.0" y1="5.40" x2="393.5" y2="5.40" stroke="#505050" stroke-width="1"/>
<line x1="676.4" y1="5.40" x2="671.9" y2="5.40" stroke="#505050" stroke-width="1"/>
<line x1="389.0" y1="21.98" x2="391.5" y2="21.98" stroke="#505050" stroke-width="1"/>
<line x1="676.4" y1="21.98" x2="673.9" y2="21.98" stroke="#505050" stroke-width="1"/>
<line x1="389.0" y1="38.56" x2="393.5" y2="38.56" stroke="#505050" stroke-width="1"/>
<line x1="676.4" y1="38.56" x2="671.9" y2="38.56" stroke="#505050" stroke-width="1"/>
<line x1="389.0" y1="55.15" x2="391.5" y2="55.15" stroke="#505050" stroke-width="1"/>
<line x1="676.4" y1="55.15" x2="673.9" y2="55.15" stroke="#505050" stroke-width="1"/>
<line x1="389.0" y1="71.73" x2="393.5" y2="71.73" stroke="#505050" stroke-width="1"/>
<line x1="676.4" y1="71.73" x2="671.9" y2="71.73" stroke="#505050" stroke-width="1"/>
<line x1="389.0" y1="88.31" x2="391.5" y2="88.31" stroke="#505050" stroke-width="1"/>
<line x1="676.4" y1="88.31" x2="673.9" y2="88.31" stroke="#505050" stroke-width="1"/>
<line x1="389.0" y1="104.90" x2="393.5" y2="104.90" stroke="#505050" stroke-width="1"/>
<line x1="676.4" y1="104.90" x2="671.9" y2="104.90" stroke="#505050" stroke-width="1"/>
<line x1="389.0" y1="121.48" x2="391.5" y2="121.48" stroke="#505050" stroke-width="1"/>
<line x1="676.4" y1="121.48" x2="673.9" y2="121.48" stroke="#505050" stroke-width="1"/>
<line x1="389.0" y1="138.06" x2="393.5" y2="138.06" stroke="#505050" stroke-width="1"/>
<line x1="676.4" y1="138.06" x2="671.9" y2="138.06" stroke="#505050" stroke-width="1"/>
<line x1="389.0" y1="154.64" x2="391.5" y2="154.64" stroke="#505050" stroke-width="1"/>
<line x1="676.4" y1="154.64" x2="673.9" y2="154.64" stroke="#505050" stroke-width="1"/>
<line x1="389.0" y1="171.22" x2="393.5" y2="171.22" stroke="#505050" stroke-width="1"/>
<line x1="676.4" y1="171.22" x2="671.9" y2="171.22" stroke="#505050" stroke-width="1"/>
<line x1="389.0" y1="187.81" x2="391.5" y2="187.81" stroke="#505050" stroke-width="1"/>
<line x1="676.4" y1="187.81" x2="673.9" y2="187.81" stroke="#505050" stroke-width="1"/>
<line x1="389.0" y1="204.39" x2="393.5" y2="204.39" stroke="#505050" stroke-width="1"/>
<line x1="676.4" y1="204.39" x2="671.9" y2="204.39" stroke="#505050" stroke-width="1"/>
<line x1="389.0" y1="220.97" x2="391.5" y2="220.97" stroke="#505050" stroke-width="1"/>
<line x1="676.4" y1="220.97" x2="673.9" y2="220.97" stroke="#505050" stroke-width="1"/>
<text x="43.65" y="253.75" text-anchor="middle" font-size="14.8" letter-spacing="0.4">0.5</text>
<text x="90.51" y="253.75" text-anchor="middle" font-size="14.8" letter-spacing="0.4">1.0</text>
<text x="137.37" y="253.75" text-anchor="middle" font-size="14.8" letter-spacing="0.4">1.5</text>
<text x="184.23" y="253.75" text-anchor="middle" font-size="14.8" letter-spacing="0.4">2.0</text>
<text x="231.08" y="253.75" text-anchor="middle" font-size="14.8" letter-spacing="0.4">2.5</text>
<text x="277.94" y="253.75" text-anchor="middle" font-size="14.8" letter-spacing="0.4">3.0</text>
<text x="324.80" y="253.75" text-anchor="middle" font-size="14.8" letter-spacing="0.4">3.5</text>
<text x="39.65" y="15.45" text-anchor="end" font-size="14.8" letter-spacing="0.4">0</text>
<text x="39.65" y="47.94" text-anchor="end" font-size="14.8" letter-spacing="0.4">-5</text>
<text x="39.65" y="80.43" text-anchor="end" font-size="14.8" letter-spacing="0.4">-10</text>
<text x="39.65" y="112.92" text-anchor="end" font-size="14.8" letter-spacing="0.4">-15</text>
<text x="39.65" y="145.41" text-anchor="end" font-size="14.8" letter-spacing="0.4">-20</text>
<text x="39.65" y="177.90" text-anchor="end" font-size="14.8" letter-spacing="0.4">-25</text>
<text x="39.65" y="210.39" text-anchor="end" font-size="14.8" letter-spacing="0.4">-30</text>
<text x="389.20" y="254.35" text-anchor="middle" font-size="15.3" letter-spacing="0.4">0.5</text>
<text x="437.10" y="254.35" text-anchor="middle" font-size="15.3" letter-spacing="0.4">1.0</text>
<text x="485.00" y="254.35" text-anchor="middle" font-size="15.3" letter-spacing="0.4">1.5</text>
<text x="532.90" y="254.35" text-anchor="middle" font-size="15.3" letter-spacing="0.4">2.0</text>
<text x="580.80" y="254.35" text-anchor="middle" font-size="15.3" letter-spacing="0.4">2.5</text>
<text x="628.70" y="254.35" text-anchor="middle" font-size="15.3" letter-spacing="0.4">3.0</text>
<text x="676.60" y="254.35" text-anchor="middle" font-size="15.3" letter-spacing="0.4">3.5</text>
<text x="385.7" y="10.70" text-anchor="end" font-size="15.3" letter-spacing="0.4">0</text>
<text x="385.7" y="43.86" text-anchor="end" font-size="15.3" letter-spacing="0.4">-5</text>
<text x="385.7" y="77.03" text-anchor="end" font-size="15.3" letter-spacing="0.4">-10</text>
<text x="385.7" y="110.20" text-anchor="end" font-size="15.3" letter-spacing="0.4">-15</text>
<text x="385.7" y="143.36" text-anchor="end" font-size="15.3" letter-spacing="0.4">-20</text>
<text x="385.7" y="176.53" text-anchor="end" font-size="15.3" letter-spacing="0.4">-25</text>
<text x="385.7" y="209.69" text-anchor="end" font-size="15.3" letter-spacing="0.4">-30</text>
<line x1="60" y1="207" x2="93" y2="207" stroke="#000" stroke-width="2" stroke-dasharray="11.7 6.8 3.7 6.7 4.1 20"/>
<line x1="126.7" y1="207" x2="162" y2="207" stroke="#f03a3a" stroke-width="2" stroke-dasharray="14.8 7.4 3.3 6.7 3 20"/>
<line x1="60.8" y1="225.4" x2="95.6" y2="225.4" stroke="#00ff00" stroke-width="2" stroke-dasharray="12.8 13.2"/>
<line x1="127.4" y1="225.4" x2="162.7" y2="225.4" stroke="#ff00ff" stroke-width="2.2"/>
<text x="98.6" y="211.2" font-size="15.3">(i)</text>
<text x="164.6" y="211.2" font-size="15.3">(ii)</text>
<text x="98.6" y="229.6" font-size="15.3">(iii)</text>
<text x="165.9" y="229.6" font-size="15.3">(iv)</text>
<line x1="586.9" y1="163.4" x2="620.3" y2="163.4" stroke="#464646" stroke-width="1.9" stroke-dasharray="11.7 6.8 3.9 7 4 20"/>
<line x1="586.9" y1="182.6" x2="623" y2="182.6" stroke="#f03a3a" stroke-width="1.9" stroke-dasharray="15.3 7.1 3.7 7.3 2.7 20"/>
<line x1="586.9" y1="200.6" x2="622.9" y2="200.6" stroke="#00ff00" stroke-width="1.9" stroke-dasharray="12.6 14.2"/>
<line x1="586.9" y1="219.6" x2="622.9" y2="219.6" stroke="#ff00ff" stroke-width="1.9"/>
<text x="625.5" y="168.3" font-size="15.2">L4=8.0</text>
<text x="625.5" y="187.3" font-size="15.2">L4=8.4</text>
<text x="625.5" y="205.6" font-size="15.2">L4=8.8</text>
<text x="625.5" y="224.8" font-size="15.2">L4=9.2</text>
<text x="179.8" y="270" text-anchor="middle" font-size="15" letter-spacing="0.17">Frequency (GHz)</text>
<text x="522" y="271.8" text-anchor="middle" font-size="15.6" letter-spacing="0">Frequency (GHz)</text>
<text x="180.6" y="293.9" text-anchor="middle" font-weight="bold" font-size="19.5" letter-spacing="0.5">(a)</text>
<text x="561.8" y="294.1" text-anchor="middle" font-weight="bold" font-size="19.5" letter-spacing="0.5">(b)</text>
<text transform="translate(10.2,121) rotate(-90)" text-anchor="middle" font-size="15">|<tspan font-weight="bold">S</tspan><tspan font-size="9.5" dy="4.2">11</tspan><tspan dy="-4.2">| (dB)</tspan></text>
<text transform="translate(355.1,117.8) rotate(-90)" text-anchor="middle" font-size="15.5" letter-spacing="0.4">|<tspan font-weight="bold">S</tspan><tspan font-size="9.5" dy="4.2">11</tspan><tspan dy="-4.2">|(dB)</tspan></text>
</svg></body></html>
